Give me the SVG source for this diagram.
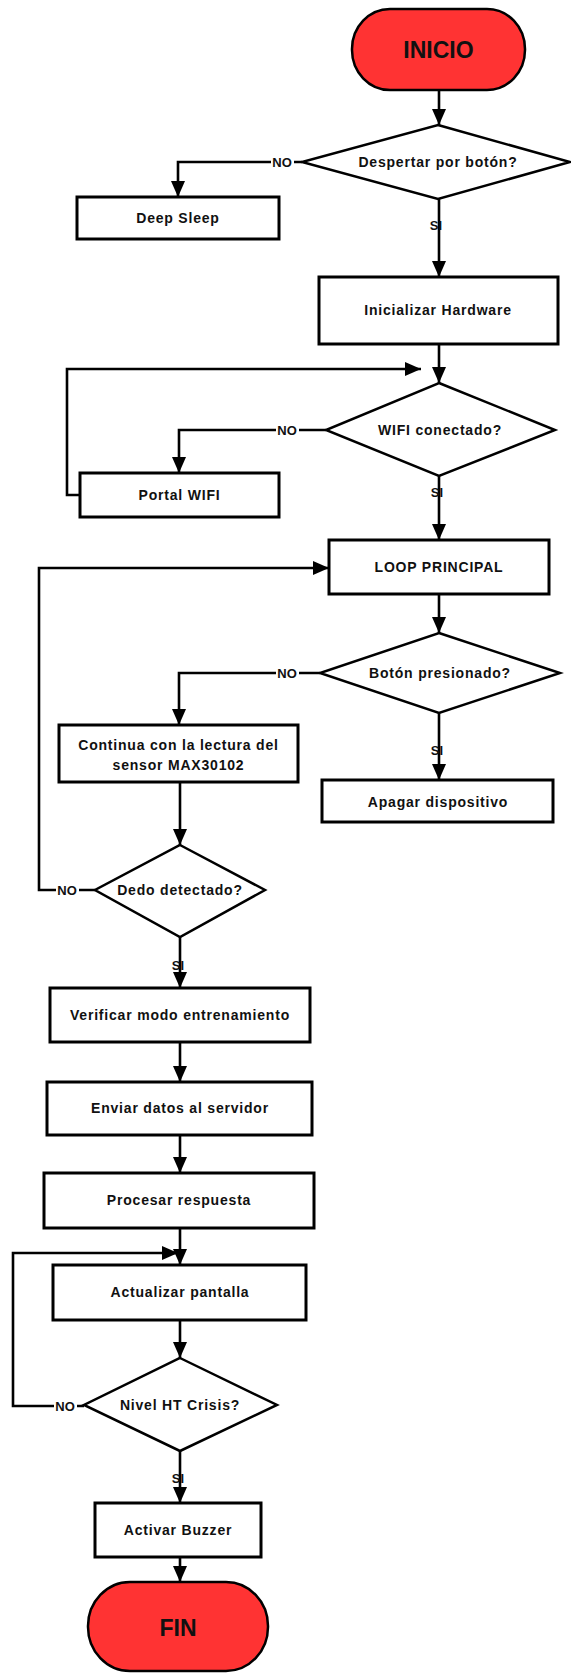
<svg xmlns="http://www.w3.org/2000/svg" width="571" height="1673" viewBox="0 0 571 1673">
  <style>
    .term { fill: #ff3333; stroke: #000; stroke-width: 2.5; }
    .box { fill: #fff; stroke: #000; stroke-width: 3; }
    .dec { fill: #fff; stroke: #000; stroke-width: 2.5; stroke-linejoin: miter; }
    .wire { fill: none; stroke: #000; stroke-width: 2.6; }
    .t { font-family: "Liberation Sans", Arial, sans-serif; font-weight: bold; font-size: 14px; letter-spacing: 0.8px; fill: #111; text-anchor: middle; dominant-baseline: central; }
    .big { font-family: "Liberation Sans", Arial, sans-serif; font-weight: bold; font-size: 23px; fill: #111; text-anchor: middle; dominant-baseline: central; }
    .lbl { font-family: "Liberation Sans", Arial, sans-serif; font-weight: bold; font-size: 13px; fill: #111; text-anchor: middle; dominant-baseline: central; }
    .lblbg { fill: #fff; }
  </style>
  <defs>
    <marker id="arrow" markerUnits="userSpaceOnUse" markerWidth="16" markerHeight="14" refX="16" refY="7" orient="auto">
      <path d="M0,0 L16,7 L0,14 z" fill="#000"/>
    </marker>
  </defs>

  <rect width="571" height="1673" fill="#fff"/>

  <!-- connectors -->
  <g id="connectors">
    <path class="wire" d="M439,90 V125" marker-end="url(#arrow)"/>
    <path class="wire" d="M302,162 H178 V197" marker-end="url(#arrow)"/>
    <path class="wire" d="M439,199 V277" marker-end="url(#arrow)"/>
    <path class="wire" d="M439,344 V383" marker-end="url(#arrow)"/>
    <path class="wire" d="M326,430 H179 V473" marker-end="url(#arrow)"/>
    <path class="wire" d="M80,495 H67 V369 H421" marker-end="url(#arrow)"/>
    <path class="wire" d="M439,476 V540" marker-end="url(#arrow)"/>
    <path class="wire" d="M439,594 V633" marker-end="url(#arrow)"/>
    <path class="wire" d="M320,673 H179 V725" marker-end="url(#arrow)"/>
    <path class="wire" d="M439,713 V780" marker-end="url(#arrow)"/>
    <path class="wire" d="M180,782 V845" marker-end="url(#arrow)"/>
    <path class="wire" d="M95,890 H39 V568 H329" marker-end="url(#arrow)"/>
    <path class="wire" d="M180,937 V988" marker-end="url(#arrow)"/>
    <path class="wire" d="M180,1042 V1082" marker-end="url(#arrow)"/>
    <path class="wire" d="M180,1135 V1173" marker-end="url(#arrow)"/>
    <path class="wire" d="M180,1228 V1265" marker-end="url(#arrow)"/>
    <path class="wire" d="M84,1406 H13 V1253 H178" marker-end="url(#arrow)"/>
    <path class="wire" d="M180,1320 V1358" marker-end="url(#arrow)"/>
    <path class="wire" d="M180,1451 V1503" marker-end="url(#arrow)"/>
    <path class="wire" d="M180,1557 V1582" marker-end="url(#arrow)"/>

    <!-- branch labels -->
    <rect class="lblbg" x="271" y="154" width="23" height="16"/>
    <text class="lbl" x="282" y="162">NO</text>
    <rect class="lblbg" x="276" y="422" width="23" height="16"/>
    <text class="lbl" x="287" y="430">NO</text>
    <rect class="lblbg" x="276" y="665" width="23" height="16"/>
    <text class="lbl" x="287" y="673">NO</text>
    <rect class="lblbg" x="56" y="882" width="23" height="16"/>
    <text class="lbl" x="67" y="890">NO</text>
    <rect class="lblbg" x="54" y="1398" width="23" height="16"/>
    <text class="lbl" x="65" y="1406">NO</text>

    <text class="lbl" x="436" y="225">SI</text>
    <text class="lbl" x="437" y="492">SI</text>
    <text class="lbl" x="437" y="750">SI</text>
    <text class="lbl" x="178" y="965">SI</text>
    <text class="lbl" x="178" y="1478">SI</text>
  </g>

  <g id="inicio">
    <rect class="term" x="352" y="9" width="173" height="81" rx="38" ry="40"/>
    <text class="big" x="438.5" y="50">INICIO</text>
  </g>

  <g id="despertar">
    <polygon class="dec" points="438,125 570,162 438,199 302,162"/>
    <text class="t" x="438" y="162">Despertar por botón?</text>
  </g>

  <g id="deep-sleep">
    <rect class="box" x="77" y="197" width="202" height="42"/>
    <text class="t" x="178" y="218">Deep Sleep</text>
  </g>

  <g id="init-hw">
    <rect class="box" x="319" y="277" width="239" height="67"/>
    <text class="t" x="438" y="310">Inicializar Hardware</text>
  </g>

  <g id="wifi">
    <polygon class="dec" points="439,383 555,430 439,476 326,430"/>
    <text class="t" x="440" y="430">WIFI conectado?</text>
  </g>

  <g id="portal-wifi">
    <rect class="box" x="80" y="473" width="199" height="44"/>
    <text class="t" x="179.5" y="495">Portal WIFI</text>
  </g>

  <g id="loop">
    <rect class="box" x="329" y="540" width="220" height="54"/>
    <text class="t" x="439" y="567">LOOP PRINCIPAL</text>
  </g>

  <g id="boton">
    <polygon class="dec" points="439,633 560,673 439,713 320,673"/>
    <text class="t" x="440" y="673">Botón presionado?</text>
  </g>

  <g id="lectura">
    <rect class="box" x="59" y="725" width="239" height="57"/>
    <text class="t" x="178.5" y="745">Continua con la lectura del</text>
    <text class="t" x="178.5" y="765">sensor MAX30102</text>
  </g>

  <g id="apagar">
    <rect class="box" x="322" y="780" width="231" height="42"/>
    <text class="t" x="438" y="802">Apagar dispositivo</text>
  </g>

  <g id="dedo">
    <polygon class="dec" points="180,845 265,890 180,937 95,890"/>
    <text class="t" x="180" y="890">Dedo detectado?</text>
  </g>

  <g id="verificar">
    <rect class="box" x="50" y="988" width="260" height="54"/>
    <text class="t" x="180" y="1015">Verificar modo entrenamiento</text>
  </g>

  <g id="enviar">
    <rect class="box" x="47" y="1082" width="265" height="53"/>
    <text class="t" x="180" y="1108">Enviar datos al servidor</text>
  </g>

  <g id="procesar">
    <rect class="box" x="44" y="1173" width="270" height="55"/>
    <text class="t" x="179" y="1200">Procesar respuesta</text>
  </g>

  <g id="actualizar">
    <rect class="box" x="53" y="1265" width="253" height="55"/>
    <text class="t" x="180" y="1292">Actualizar pantalla</text>
  </g>

  <g id="nivel">
    <polygon class="dec" points="180,1358 277,1405 180,1451 84,1405"/>
    <text class="t" x="180" y="1405">Nivel HT Crisis?</text>
  </g>

  <g id="buzzer">
    <rect class="box" x="95" y="1503" width="166" height="54"/>
    <text class="t" x="178" y="1530">Activar Buzzer</text>
  </g>

  <g id="fin">
    <rect class="term" x="88" y="1582" width="180" height="89" rx="42" ry="44"/>
    <text class="big" x="178" y="1628">FIN</text>
  </g>
</svg>
